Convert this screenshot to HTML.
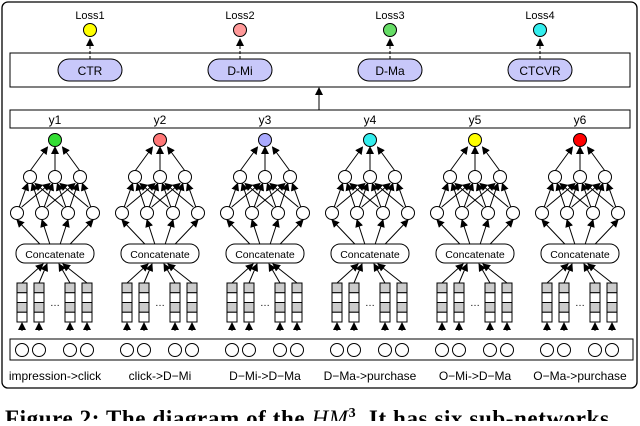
<!DOCTYPE html><html><head><style>body{margin:0;background:#fff;width:640px;height:421px;overflow:hidden}</style></head><body>
<svg id="s" width="640" height="421" xmlns="http://www.w3.org/2000/svg" font-family="Liberation Sans, sans-serif">
<defs><marker id="a" markerWidth="8" markerHeight="8" refX="7" refY="4" orient="auto" markerUnits="userSpaceOnUse"><path d="M0,0L8,4L0,8z" fill="#000"/></marker></defs>
<rect x="2" y="2" width="635" height="386" rx="6" fill="none" stroke="#000" stroke-width="1.3"/>
<rect x="10" y="53" width="620" height="34" fill="none" stroke="#000"/>
<rect x="10" y="110" width="620" height="18" fill="none" stroke="#000"/>
<rect x="10" y="339" width="623" height="21" fill="none" stroke="#000"/>
<line x1="319" y1="110" x2="319" y2="88" stroke="#000" marker-end="url(#a)"/>
<g id="g"></g>
<text x="5" y="426" font-family="Liberation Serif, serif" font-weight="bold" font-size="23" letter-spacing="0.6">Figure 2: The diagram of the <tspan font-style="italic" font-weight="normal">HM</tspan><tspan font-size="14" dy="-9">3</tspan><tspan dy="9">. It has six sub-networks</tspan></text>
</svg>
<script>
var g=document.getElementById('g'),h='';
function L(x1,y1,x2,y2,d){h+='<line x1="'+x1+'" y1="'+y1+'" x2="'+x2+'" y2="'+y2+'" stroke="#000" stroke-width="1"'+(d?' stroke-dasharray="3,2"':'')+' marker-end="url(#a)"/>';}
function C(x,y,r,f){h+='<circle cx="'+x+'" cy="'+y+'" r="'+r+'" fill="'+f+'" stroke="#000"/>';}
function T(x,y,t,s){h+='<text x="'+x+'" y="'+y+'" font-size="'+s+'" text-anchor="middle">'+t+'</text>';}
var tops=[[90,'CTR','#ff0','Loss1'],[240,'D-Mi','#f99','Loss2'],[390,'D-Ma','#6d6','Loss3'],[540,'CTCVR','#3ee','Loss4']];
tops.forEach(function(t){var x=t[0];h+='<rect x="'+(x-32)+'" y="59" width="64" height="22" rx="11" fill="#c8c8fa" stroke="#000"/>';T(x,75,t[1],12);L(x,59,x,39,1);C(x,30,6.5,t[2]);T(x,19,t[3],11);});
var cols=['#3d3','#f77','#aaf','#3ee','#ff0','#f00'];
var labs=['impression-&gt;click','click-&gt;D\u2212Mi','D\u2212Mi-&gt;D\u2212Ma','D\u2212Ma-&gt;purchase','O\u2212Mi-&gt;D\u2212Ma','O\u2212Ma-&gt;purchase'];
for(var i=0;i<6;i++){var c=55+105*i;
T(c,124,'y'+(i+1),12);
var l2=[c-25,c,c+25],l3=[c-38,c-13,c+13,c+38];
l2.forEach(function(x){L(x,171,c+(x-c)*0.3,147);});
var m=[[0,1],[0,1,2],[0,1,2],[1,2]];
l3.forEach(function(x,j){m[j].forEach(function(k){var tx=l2[k];var dx=tx-x,dy=177-213,len=Math.sqrt(dx*dx+dy*dy);L(x+dx*6.5/len,207,tx-dx*7/len,183.5);});});
l3.forEach(function(x){L(c+(x-c)*0.4,244,x,220);});
C(c,140,6.5,cols[i]);l2.forEach(function(x){C(x,177,6.5,'#fff');});l3.forEach(function(x){C(x,213,6.5,'#fff');});
h+='<rect x="'+(c-39)+'" y="244" width="78" height="19" rx="9" fill="#fff" stroke="#000"/>';T(c,258,'Concatenate',10.5);
var e=[c-33,c-16,c+15,c+32];
e.forEach(function(x,j){L(x,283,c+(j<2?-12+j*4:4+(j-2)*4),264);
for(var k=0;k<4;k++)h+='<rect x="'+(x-5)+'" y="'+(283+k*9.75)+'" width="10" height="9.75" fill="'+(k%2==0?'#ccc':'#fff')+'" stroke="#000"/>';
L(x,331,x,323,1);C(x,350,6.5,'#fff');});
T(c,306,'\u2026',10);
T(c,380,labs[i],12);}
g.innerHTML=h;
</script>
</body></html>
